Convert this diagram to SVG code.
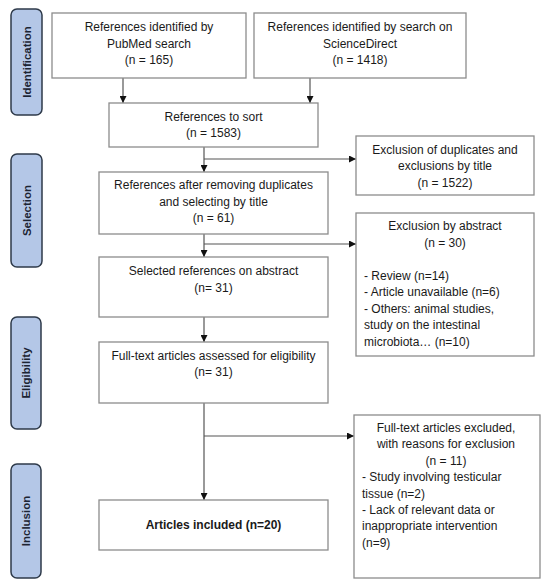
<svg xmlns="http://www.w3.org/2000/svg" width="550" height="586" viewBox="0 0 550 586">
<style>
.box{fill:#fff;stroke:#8c8c8c;stroke-width:1.3}
.side{fill:#b4c7e7;stroke:#2e3a4a;stroke-width:1.5}
text{font-family:"Liberation Sans",Arial,sans-serif;font-size:12px;fill:#1a1a1a}
.c{text-anchor:middle}
.s{font-weight:bold;font-size:11.5px;fill:#1c2433;text-anchor:middle}
.con{fill:none;stroke:#555;stroke-width:1.2}
</style>
<defs>
<marker id="ah" viewBox="0 0 8 8" refX="8" refY="4" markerWidth="7" markerHeight="7" markerUnits="userSpaceOnUse" orient="auto">
<path d="M0,0 L8,4 L0,8 Z" fill="#111"/>
</marker>
</defs>
<rect width="550" height="586" fill="#fff"/>

<g id="side-identification">
<rect class="side" x="11" y="9" width="31" height="106" rx="6"/>
<text class="s" transform="translate(30.5,62) rotate(-90)">Identification</text>
</g>
<g id="side-selection">
<rect class="side" x="11" y="154" width="31" height="113" rx="6"/>
<text class="s" transform="translate(30.5,210.5) rotate(-90)">Selection</text>
</g>
<g id="side-eligibility">
<rect class="side" x="11" y="317" width="30" height="112" rx="6"/>
<text class="s" transform="translate(30,373) rotate(-90)">Eligibility</text>
</g>
<g id="side-inclusion">
<rect class="side" x="11" y="464" width="30" height="114" rx="6"/>
<text class="s" transform="translate(30,521) rotate(-90)">Inclusion</text>
</g>

<g id="connectors">
<line class="con" x1="123" y1="78" x2="123" y2="103" marker-end="url(#ah)"/>
<line class="con" x1="310" y1="78" x2="310" y2="103" marker-end="url(#ah)"/>
<line class="con" x1="204" y1="147" x2="204" y2="172" marker-end="url(#ah)"/>
<line class="con" x1="204" y1="159" x2="356" y2="159" marker-end="url(#ah)"/>
<line class="con" x1="204" y1="234" x2="204" y2="257" marker-end="url(#ah)"/>
<line class="con" x1="204" y1="244" x2="356" y2="244" marker-end="url(#ah)"/>
<line class="con" x1="204" y1="317" x2="204" y2="342" marker-end="url(#ah)"/>
<line class="con" x1="204" y1="403" x2="204" y2="500" marker-end="url(#ah)"/>
<line class="con" x1="204" y1="436" x2="354" y2="436" marker-end="url(#ah)"/>
</g>

<g id="pubmed">
<rect class="box" x="52" y="13" width="194" height="65"/>
<text class="c" x="149" y="31">References identified by</text>
<text class="c" x="149" y="47.5">PubMed search</text>
<text class="c" x="149" y="64">(n = 165)</text>
</g>
<g id="sciencedirect">
<rect class="box" x="254" y="13" width="212" height="65"/>
<text class="c" x="360" y="31">References identified by search on</text>
<text class="c" x="360" y="47.5">ScienceDirect</text>
<text class="c" x="360" y="64">(n = 1418)</text>
</g>
<g id="sort">
<rect class="box" x="109" y="103" width="209" height="44"/>
<text class="c" x="213.5" y="121">References to sort</text>
<text class="c" x="213.5" y="137">(n = 1583)</text>
</g>
<g id="excl-duplicates">
<rect class="box" x="356" y="136" width="178" height="59"/>
<text class="c" x="445" y="154">Exclusion of duplicates and</text>
<text class="c" x="445" y="170">exclusions by title</text>
<text class="c" x="445" y="187">(n = 1522)</text>
</g>
<g id="after-removing">
<rect class="box" x="99" y="172" width="229" height="62"/>
<text class="c" x="213.5" y="189">References after removing duplicates</text>
<text class="c" x="213.5" y="205.5">and selecting by title</text>
<text class="c" x="213.5" y="222">(n = 61)</text>
</g>
<g id="excl-abstract">
<rect class="box" x="356" y="213" width="178" height="143"/>
<text class="c" x="445" y="230">Exclusion by abstract</text>
<text class="c" x="445" y="247">(n = 30)</text>
<text x="364" y="280">- Review (n=14)</text>
<text x="364" y="296">- Article unavailable (n=6)</text>
<text x="364" y="312.5">- Others: animal studies,</text>
<text x="364" y="329">study on the intestinal</text>
<text x="364" y="346">microbiota… (n=10)</text>
</g>
<g id="selected-abstract">
<rect class="box" x="99" y="257" width="229" height="60"/>
<text class="c" x="213.5" y="275">Selected references on abstract</text>
<text class="c" x="213.5" y="292">(n= 31)</text>
</g>
<g id="fulltext-assessed">
<rect class="box" x="99" y="342" width="229" height="61"/>
<text class="c" x="213.5" y="360">Full-text articles assessed for eligibility</text>
<text class="c" x="213.5" y="376">(n= 31)</text>
</g>
<g id="fulltext-excluded">
<rect class="box" x="354" y="415" width="186" height="163"/>
<text class="c" x="446" y="432">Full-text articles excluded,</text>
<text class="c" x="446" y="448">with reasons for exclusion</text>
<text class="c" x="446" y="465">(n = 11)</text>
<text x="362" y="481">- Study involving testicular</text>
<text x="362" y="497.5">tissue (n=2)</text>
<text x="362" y="514">- Lack of relevant data or</text>
<text x="362" y="530">inappropriate intervention</text>
<text x="362" y="547">(n=9)</text>
</g>
<g id="included">
<rect class="box" x="99" y="500" width="229" height="50"/>
<text class="c" x="213.5" y="529" font-weight="bold">Articles included (n=20)</text>
</g>
</svg>
